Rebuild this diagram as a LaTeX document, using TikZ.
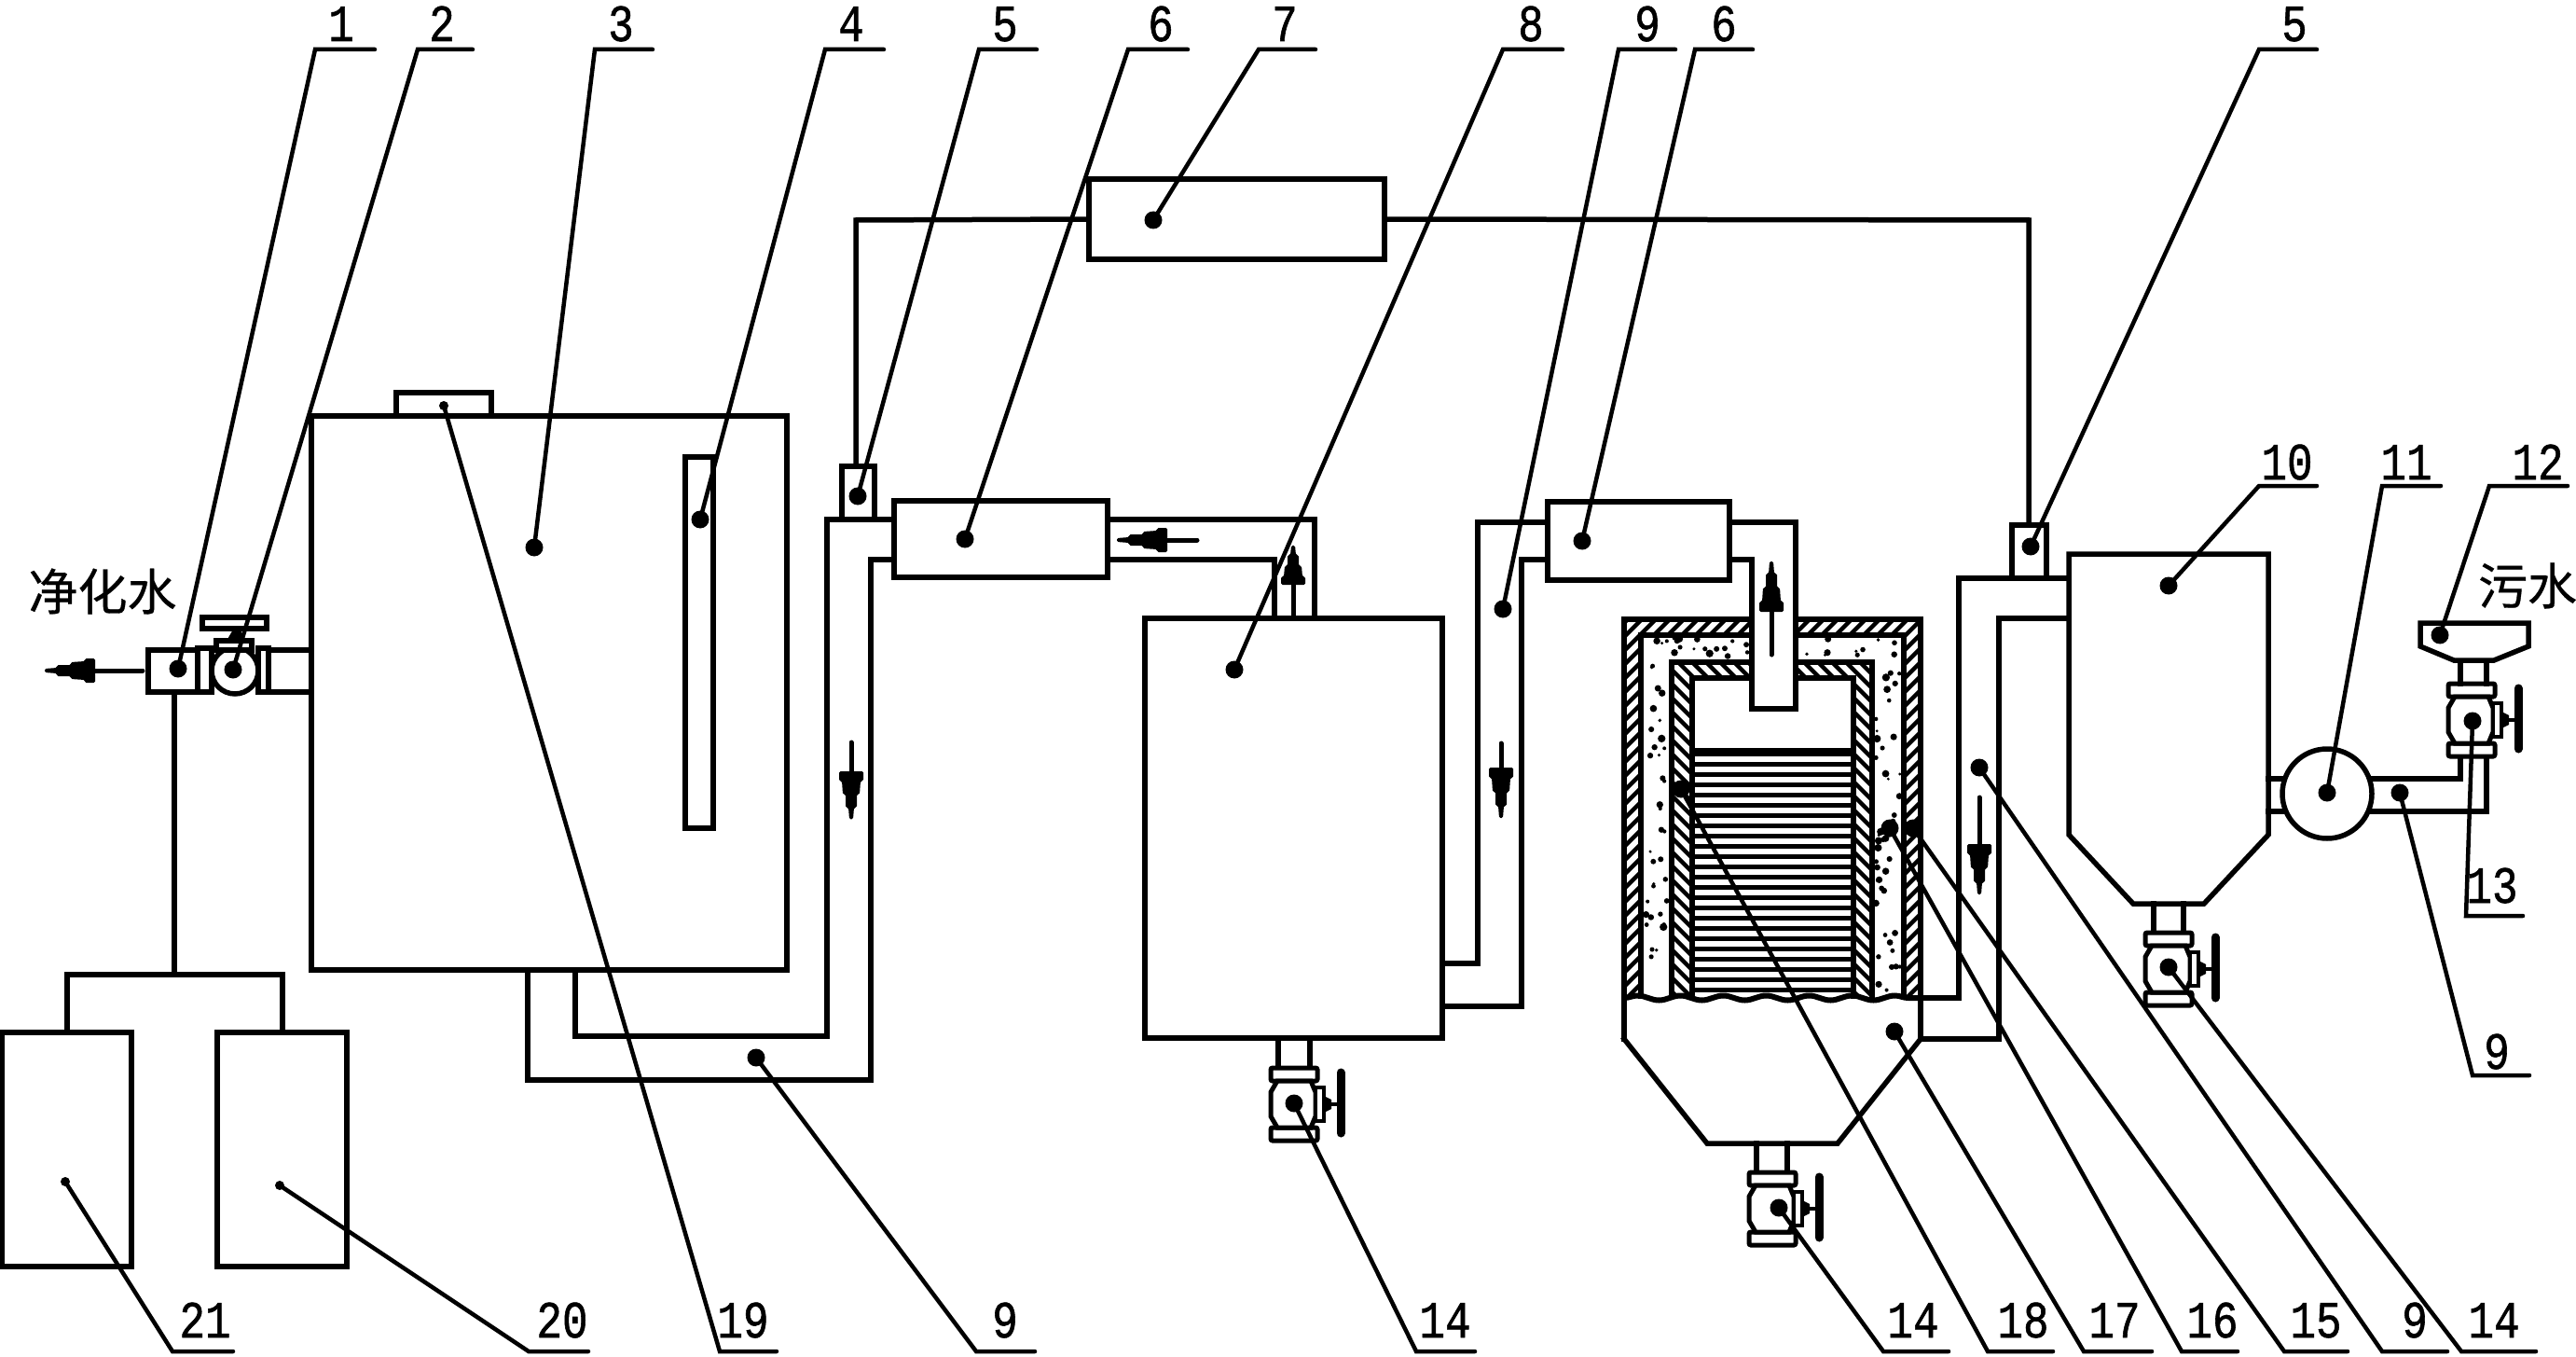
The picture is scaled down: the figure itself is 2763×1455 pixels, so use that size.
\documentclass[tikz,border=0pt]{standalone}
\usepackage{fontspec}
\usetikzlibrary{decorations.pathmorphing}
\newfontfamily\digitfont[FakeStretch=0.82,FakeBold=1]{Liberation Mono}
\newfontfamily\cjkfont[FakeBold=0.6]{Noto Sans CJK SC}
\newcommand{\dotsz}{19pt}
\tikzset{
  pipe/.style={line width=5.5pt,line join=miter,line cap=rect},
  vessel/.style={draw,line width=5.5pt,inner sep=0pt,outer sep=0pt,fill=white},
  leader/.style={line width=4.5pt,line cap=round},
  leaddot/.style={circle,fill=black,inner sep=0pt,outer sep=0pt,minimum size=\dotsz},
  numlabel/.style={anchor=base,inner sep=0pt,font=\digitfont\fontsize{56}{60}\selectfont},
  cnlabel/.style={inner sep=0pt,font=\cjkfont\fontsize{53}{58}\selectfont},
  hatchline/.style={line width=4.5pt},
}
% named rectangular vessel from corner to corner
\newcommand{\bxnode}[5]{%
  \pgfmathsetmacro\bxw{#4-#2}\pgfmathsetmacro\bxh{#5-#3}%
  \node[vessel,minimum width=\bxw pt,minimum height=\bxh pt] (#1) at ({(#2+#4)/2},{(#3+#5)/2}) {};}
% leader: name, dot x, dot y, elbow x, elbow y, underline end x, text x, text base y, text
\newcommand{\leadline}[9]{%
  \node[leaddot] (#1d) at (#2,#3) {};
  \coordinate (#1e) at (#4,#5);
  \coordinate (#1u) at (#6,#5);
  \draw[leader] (#1d.center) -- (#1e) -- (#1u);
  \node[numlabel] (#1t) at (#7,#8) {#9};}
% flow arrow: tail x, tail y, rotation, shaft length, head length scale
\newcommand{\flowarrow}[5]{%
  \begin{scope}[shift={(#1,#2)},rotate=#3]
    \draw[line width=5pt,line cap=round] (0,0) -- (#4,0);
    \begin{scope}[shift={(#4,0)},xscale=#5]
      \fill[rounded corners=1.5pt] (0,-13) -- (11,-13) -- (11,-10) -- (26,-9) -- (26,-6) -- (41,-6) -- (41,-3) -- (54,-2) -- (54,2) -- (41,3) -- (41,6) -- (26,6) -- (26,9) -- (11,10) -- (11,13) -- (0,13) -- cycle;
    \end{scope}
  \end{scope}}
% vertical valve: centre x, flange top y
\newcommand{\valve}[2]{%
  \begin{scope}[shift={(#1,#2)}]
    \draw[line width=5pt,rounded corners=2pt,fill=white] (-25,0) rectangle (25,14);
    \draw[line width=5pt,rounded corners=2pt,fill=white] (-25,64) rectangle (25,78);
    \draw[line width=5pt,fill=white] (-18,14) -- (-25,26) -- (-25,52) -- (-18,64) -- (18,64) -- (23,52) -- (23,26) -- (18,14) -- cycle;
    \draw[line width=4pt,fill=white] (23,21) rectangle (32,57);
    \fill (32,30) -- (40,34) -- (40,44) -- (32,48) -- cycle;
    \draw[line width=4pt] (40,39) -- (50,39);
    \draw[line width=9pt,line cap=round] (50,5) -- (50,70);
  \end{scope}}
\begin{document}
\begin{tikzpicture}[x=1pt,y=-1pt]
\useasboundingbox (0,0) rectangle (2763,1455);
\fill[white] (0,0) rectangle (2763,1455);

% ---------- gas tanks and purified-water outlet ----------
\bxnode{tankA}{2}{1107}{141}{1358}
\bxnode{tankB}{233}{1107}{372}{1358}
\bxnode{outBox}{159}{697}{212}{742}
\coordinate (split) at (187,1045);
\draw[pipe] (outBox.south -| split) -- (split);
\draw[pipe] (tankA.north -| 72,0) -- (72,1045) -- (303,1045) -- (tankB.north -| 303,0);
\flowarrow{153}{719}{180}{51}{1}

% horizontal valve 2
\bxnode{flangeL}{212}{695}{227}{742}
\node[vessel,circle,minimum size=50pt] (valve2) at (252,719) {};
\bxnode{flangeR}{277}{695}{288}{742}
\bxnode{stem2}{232}{687}{270}{697}
\fill (243,687) -- (250,675) -- (258,675) -- (262,687) -- cycle;
\bxnode{handle2}{217}{662}{286}{674}
\bxnode{outPipe}{288}{697}{334}{742}

% ---------- tank 3 ----------
\bxnode{cap}{425}{421}{527}{446}
\bxnode{tank3}{334}{446}{844}{1040}
\bxnode{gauge}{735}{490}{765}{888}

% ---------- pipe 9 from tank 3 to cooler 6 ----------
\draw[pipe] (566,1040) -- (566,1158) -- (934,1158) -- (934,600) -- (959,600);
\draw[pipe] (617,1040) -- (617,1111) -- (887,1111) -- (887,557) -- (959,557);
\bxnode{sensorL}{903}{500}{938}{557}
\bxnode{coolerA}{959}{537}{1188}{619}
\flowarrow{913}{796}{-90}{31}{0.95}

% ---------- tank 8 ----------
\bxnode{tank8}{1228}{663}{1547}{1113}
\draw[pipe] (1188,557) -- (1410,557) -- (1410,663);
\draw[pipe] (1188,600) -- (1367,600) -- (1367,663);
\flowarrow{1284}{579}{180}{32}{1}
\flowarrow{1387}{660}{90}{33}{0.78}
\draw[pipe] (1371,1113) -- (1371,1143);
\draw[pipe] (1405,1113) -- (1405,1143);
\valve{1388}{1145}

% ---------- upper pipe with unit 7 ----------
\bxnode{unit7}{1168}{192}{1485}{278}
\draw[pipe] (sensorL.north -| 918,0) -- (918,236) -- (unit7.west);
\draw[pipe] (unit7.east) -- (2176,236) -- (2176,563);

% ---------- pipe from tank 8 to cooler 6b ----------
\draw[pipe] (1547,1033) -- (1585,1033) -- (1585,560) -- (1660,560);
\draw[pipe] (1547,1079) -- (1632,1079) -- (1632,600) -- (1660,600);
\bxnode{coolerB}{1660}{538}{1855}{622}
\flowarrow{1610}{797}{-90}{26}{1}

% ---------- reactor ----------
\begin{scope}[even odd rule]
  \clip (1742,664) rectangle (2060,1070) (1760,681) rectangle (2042,1070);
  \foreach \x in {1300,1315,...,2450} {\draw[hatchline] (\x,1080) -- ++(430,-430);}
\end{scope}
\begin{scope}[even odd rule]
  \clip (1793,710) rectangle (2008,1070) (1815,727) rectangle (1988,1070);
  \foreach \x in {1400,1415,...,2010} {\draw[hatchline] (\x,700) -- ++(400,400);}
\end{scope}
\pgfmathsetseed{11}
\foreach \i in {1,...,38} {\fill ({1765+rnd*25},{685+rnd*380}) circle ({1.6+rnd*2.6});}
\foreach \i in {1,...,48} {\fill ({2012+rnd*26},{685+rnd*380}) circle ({1.6+rnd*2.6});}
\foreach \i in {1,...,28} {\fill ({1794+rnd*214},{684+rnd*23}) circle ({1.6+rnd*2.6});}
\foreach \y in {808,819,...,1062} {\draw[line width=5pt] (1815,\y) -- (1988,\y);}
\draw[line width=5pt] (1815,804) -- (1988,804);
\draw[pipe] (1742,1114) -- (1742,664) -- (2060,664) -- (2060,1114);
\draw[pipe] (1760,1068) -- (1760,681) -- (2042,681) -- (2042,1068);
\draw[pipe] (1793,1068) -- (1793,710) -- (2008,710) -- (2008,1068);
\draw[pipe] (1815,1068) -- (1815,727) -- (1988,727) -- (1988,1068);
\draw[line width=6pt,decorate,decoration={snake,amplitude=2.5pt,segment length=46pt}] (1742,1070) -- (2060,1070);
\draw[pipe,fill=white] (1742,1114) -- (1831,1226) -- (1971,1226) -- (2060,1114);
\fill[white] (1881,640) rectangle (1925,758);
\draw[pipe] (1855,560) -- (1926,560) -- (1926,760) -- (1879,760) -- (1879,600) -- (1855,600);
\flowarrow{1900}{702}{90}{46}{1}
\draw[pipe] (1884,1226) -- (1884,1255);
\draw[pipe] (1917,1226) -- (1917,1255);
\valve{1901}{1257}

% ---------- pipe from reactor to hopper 10 ----------
\draw[pipe] (2060,1070) -- (2101,1070) -- (2101,620) -- (2219,620);
\draw[pipe] (2060,1114) -- (2144,1114) -- (2144,663) -- (2219,663);
\bxnode{sensorR}{2158}{563}{2195}{620}
\flowarrow{2123}{855}{-90}{50}{1}

% ---------- hopper 10 ----------
\draw[pipe,fill=white] (2219,594) -- (2433,594) -- (2433,895) -- (2364,969) -- (2288,969) -- (2219,895) -- cycle;
\draw[pipe] (2310,969) -- (2310,998);
\draw[pipe] (2342,969) -- (2342,998);
\valve{2326}{1000}

% ---------- pump 11, inlet, funnel 12 ----------
\draw[pipe] (2433,835) -- (2452,835);
\draw[pipe] (2433,870) -- (2452,870);
\node[vessel,circle,minimum size=96pt] (pump) at (2496,851) {};
\draw[pipe] (2544,835) -- (2639,835) -- (2639,812);
\draw[pipe] (2541,870) -- (2667,870) -- (2667,812);
\valve{2651}{733}
\draw[pipe] (2639,710) -- (2639,733);
\draw[pipe] (2667,710) -- (2667,733);
\draw[pipe,fill=white] (2596,668) -- (2712,668) -- (2712,693) -- (2675,708) -- (2632,708) -- (2596,693) -- cycle;

% ---------- text ----------
\node[cnlabel] (cleanwater) at (110,634) {净化水};
\node[cnlabel] (sewage) at (2711,628) {污水};

% ---------- leaders ----------
\leadline{La}{191}{717}{338}{53}{402}{366}{44}{1}
\leadline{Lb}{250}{718}{448}{53}{507}{474}{44}{2}
\leadline{Lc}{573}{587}{638}{53}{700}{666}{44}{3}
\leadline{Ld}{751}{557}{885}{53}{948}{913}{44}{4}
\leadline{Le}{920}{532}{1050}{53}{1112}{1078}{44}{5}
\leadline{Lf}{1035}{578}{1210}{53}{1274}{1245}{44}{6}
\leadline{Lg}{1237}{236}{1350}{53}{1411}{1378}{44}{7}
\leadline{Lh}{1324}{718}{1612}{53}{1676}{1642}{44}{8}
\leadline{Li}{1612}{653}{1736}{53}{1797}{1767}{44}{9}
\leadline{Lj}{1697}{580}{1818}{53}{1880}{1849}{44}{6}
\leadline{Lk}{2178}{586}{2423}{53}{2485}{2461}{44}{5}
\leadline{Ll}{2326}{628}{2423}{521}{2485}{2453}{514}{10}
\leadline{Lm}{2496}{850}{2555}{521}{2618}{2581}{514}{11}
\leadline{Ln}{2617}{681}{2670}{521}{2754}{2722}{514}{12}
\leadline{Lo}{2652}{773}{2645}{982}{2706}{2673}{968}{13}
\leadline{Lp}{2574}{850}{2652}{1153}{2713}{2678}{1146}{9}
\renewcommand{\dotsz}{10pt}
\leadline{Lq}{70}{1267}{185}{1449}{250}{220}{1434}{21}
\leadline{Lr}{300}{1271}{567}{1449}{631}{603}{1434}{20}
\leadline{Ls}{476}{435}{772}{1449}{833}{797}{1434}{19}
\renewcommand{\dotsz}{19pt}
\leadline{Lt}{811}{1134}{1047}{1449}{1110}{1078}{1434}{9}
\leadline{Lu}{1388}{1183}{1519}{1449}{1582}{1550}{1434}{14}
\leadline{Lv}{1908}{1295}{2020}{1449}{2090}{2052}{1434}{14}
\leadline{Lw}{1803}{846}{2132}{1449}{2202}{2170}{1434}{18}
\leadline{Lx}{2032}{1106}{2235}{1449}{2308}{2268}{1434}{17}
\leadline{Ly}{2027}{888}{2340}{1449}{2400}{2373}{1434}{16}
\leadline{Lz}{2052}{888}{2450}{1449}{2518}{2484}{1434}{15}
\leadline{LA}{2123}{823}{2555}{1449}{2625}{2590}{1434}{9}
\leadline{LB}{2326}{1037}{2640}{1449}{2720}{2675}{1434}{14}
\end{tikzpicture}
\end{document}
